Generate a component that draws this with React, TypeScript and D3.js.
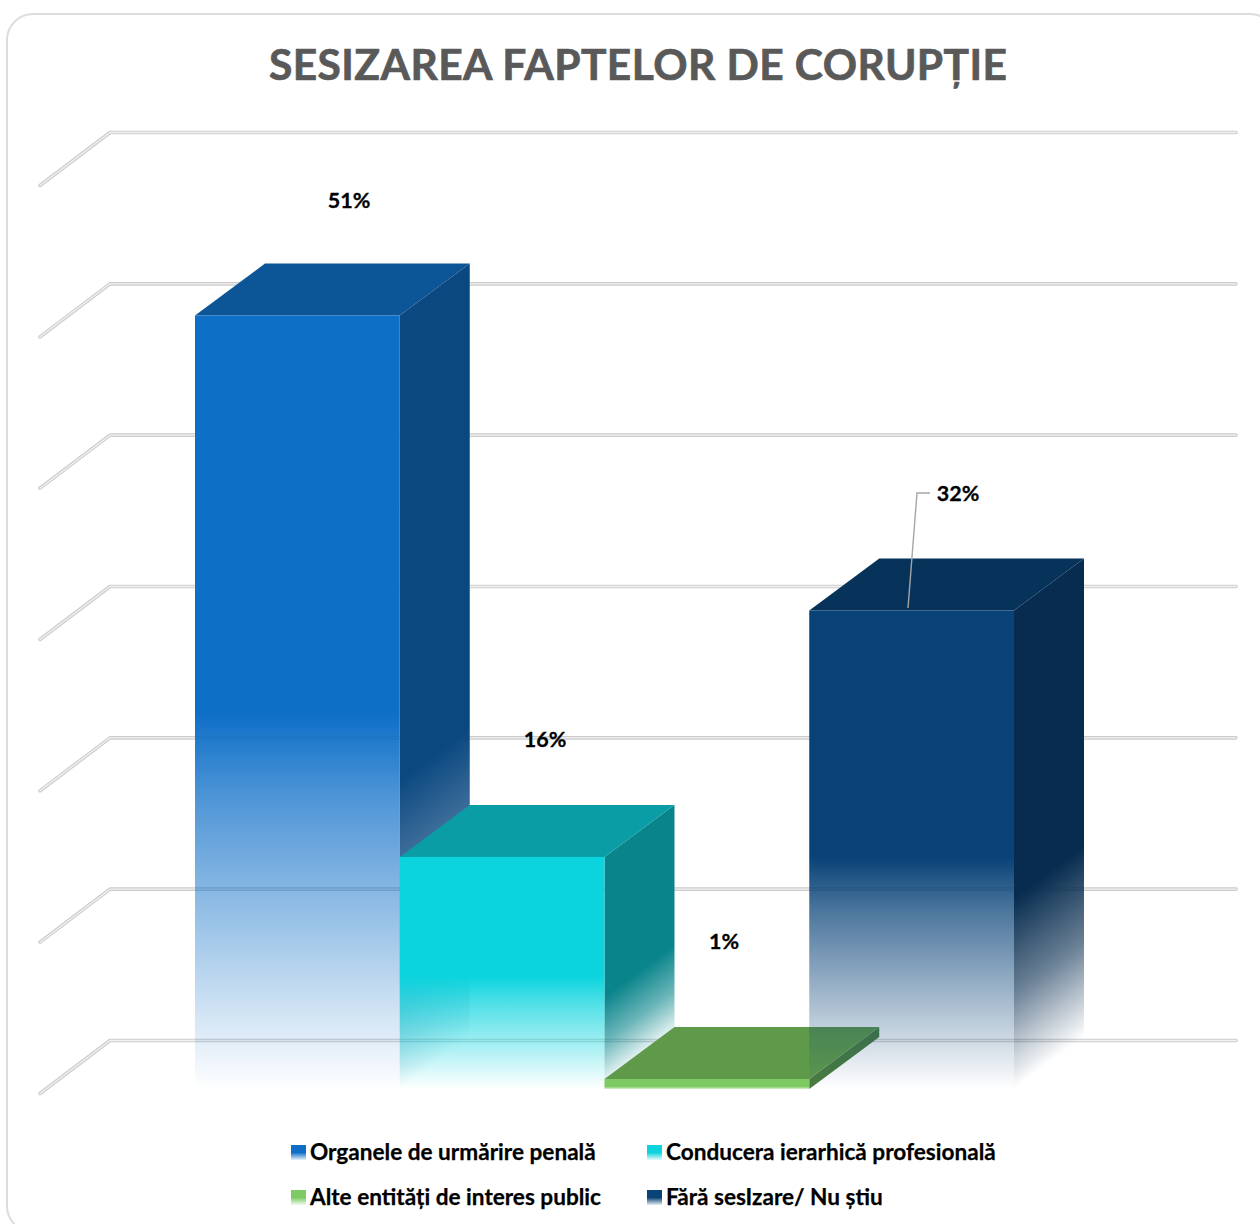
import React from "react";
import * as d3 from "d3";

const title = "SESIZAREA FAPTELOR DE CORUPȚIE";
const categories = ["Organele de urmărire penală", "Conducera ierarhică profesională", "Alte entități de interes public", "Fără sesIzare/ Nu știu"];
const barValues = [51, 15.3, 0.66, 31.55];
const labels = ["51%", "16%", "1%", "32%"];
const tickValues = [0, 10, 20, 30, 40, 50, 60];
const frontColors = ["#0e6fc7", "#0bd4de", "#7dcb62", "#084277"];
const topColors = ["#0c5596", "#0a9da5", "#5f994a", "#07335b"];
const sideColors = ["#0b4880", "#08848a", "#4a7c3f", "#072c4f"];
const labelX = [349, 545, 724, 958];
const labelY = [200.5, 739.5, 941.5, 493.5];
const legendX = [291, 647, 291, 647];
const legendY = [1152, 1152, 1197, 1197];

const DX = 70;
const DY = -52;
const y = d3.scaleLinear().domain([0, 60]).range([1089, 179]);
const gridY = d3.scaleLinear().domain([0, 60]).range([1040.5, 132.5]);
const x = d3.scaleBand<string>().domain(categories).range([195, 1014]).padding(0);
const poly = (pts: [number, number][]) => d3.line()(pts) + "Z";

function SideGradient({ id, color, x0, top, bottom }: { id: string; color: string; x0: number; top: number; bottom: number }) {
  const len = Math.hypot(DX, DY);
  const nx = -DY / len;
  const ny = DX / len;
  const dist = (bottom - top) * ny;
  return (
    <linearGradient id={id} gradientUnits="userSpaceOnUse" x1={x0} y1={top} x2={x0 + nx * dist} y2={top + ny * dist}>
      <stop offset="0" stopColor={color} />
      <stop offset="0.6" stopColor={color} />
      <stop offset="0.8" stopColor={color} stopOpacity={0.6} />
      <stop offset="1" stopColor={color} stopOpacity={0} />
    </linearGradient>
  );
}

export default function App() {
  return (
    <svg width={1260} height={1224} style={{ position: "absolute", left: 0, top: 0, background: "#fff" }} fontFamily="Lato, Carlito, 'Open Sans', sans-serif">
      <defs>
        {categories.map((c, i) => {
          const top = y(barValues[i]);
          return (
            <React.Fragment key={c}>
              <linearGradient id={`front${i}`} x1="0" y1="0" x2="0" y2="1">
                <stop offset="0" stopColor={frontColors[i]} />
                <stop offset={i === 2 ? 0.75 : 0.515} stopColor={frontColors[i]} />
                <stop offset={i === 2 ? 1 : 0.63} stopColor={frontColors[i]} stopOpacity={i === 2 ? 0.3 : 0.72} />
                <stop offset="1" stopColor={frontColors[i]} stopOpacity={i === 2 ? 0.3 : 0} />
              </linearGradient>
              <SideGradient id={`side${i}`} color={sideColors[i]} x0={x(c)! + x.bandwidth()} top={top} bottom={1089} />
              <linearGradient id={`legend${i}`} x1="0" y1="0" x2="0" y2="1">
                <stop offset="0" stopColor={frontColors[i]} />
                <stop offset="0.5" stopColor={frontColors[i]} />
                <stop offset="1" stopColor={frontColors[i]} stopOpacity={0.1} />
              </linearGradient>
            </React.Fragment>
          );
        })}
      </defs>

      <rect x={7} y={14} width={1269} height={1218} rx={26} fill="#fff" stroke="#dcdcdc" strokeWidth={2} />

      <text x={638} y={80} textAnchor="middle" fontSize={42.5} fontWeight={700} fill="#595959" stroke="#595959" strokeWidth={0.7} textLength={738} lengthAdjust="spacing">{title}</text>

      {tickValues.map((t) => {
        const py = gridY(t);
        const path = `M40,${py - DY + 1} L${40 + DX},${py} L1236,${py}`;
        return (
          <g key={t} fill="none" strokeLinecap="round" strokeLinejoin="round">
            <path d={path} stroke="#cccccc" strokeWidth={3.6} />
            <path d={path} stroke="#f2f2f2" strokeWidth={1.3} />
          </g>
        );
      })}

      {categories.map((c, i) => {
        const x0 = x(c)!;
        const x1 = x0 + x.bandwidth();
        const top = y(barValues[i]);
        const base = y(0);
        return (
          <g key={c}>
            <path d={poly([[x1, top], [x1 + DX, top + DY], [x1 + DX, base + DY], [x1, base]])} fill={i === 2 ? sideColors[2] : `url(#side${i})`} />
            <path d={poly([[x0, top], [x0 + DX, top + DY], [x1 + DX, top + DY], [x1, top]])} fill={topColors[i]} />
            <rect x={x0} y={top} width={x.bandwidth()} height={base - top} fill={`url(#front${i})`} />
          </g>
        );
      })}

      <path d="M908,608 L917,493 L930,493" fill="none" stroke="#a6a6a6" strokeWidth={1.4} />

      {labels.map((l, i) => (
        <text key={l} x={labelX[i]} y={labelY[i]} dy="0.35em" textAnchor="middle" fontSize={21.5} fontWeight={700} fill="#000" stroke="#000" strokeWidth={0.3}>{l}</text>
      ))}

      {categories.map((c, i) => (
        <g key={c}>
          <rect x={legendX[i]} y={legendY[i] - 7} width={15} height={15} fill={`url(#legend${i})`} />
          <text x={legendX[i] + 19} y={legendY[i]} dy="0.35em" fontSize={22.6} fontWeight={700} fill="#000" stroke="#000" strokeWidth={0.25}>{c}</text>
        </g>
      ))}
    </svg>
  );
}
